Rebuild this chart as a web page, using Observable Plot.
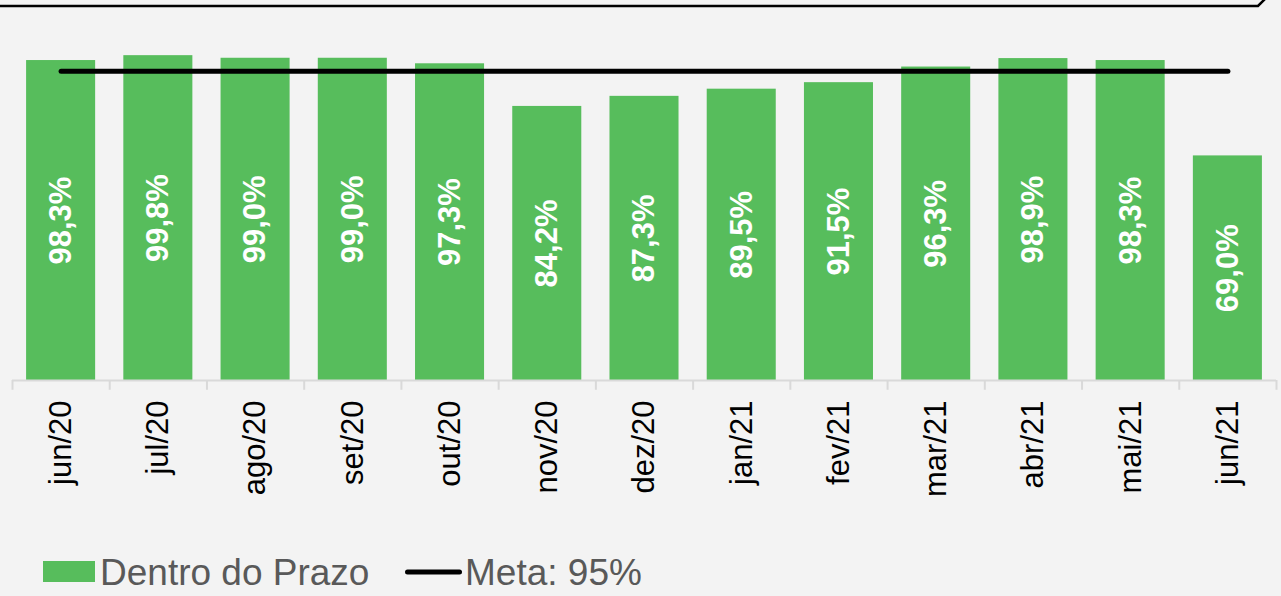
<!DOCTYPE html>
<html>
<head>
<meta charset="utf-8">
<script src="https://cdn.jsdelivr.net/npm/d3@7"></script>
<script src="https://cdn.jsdelivr.net/npm/@observablehq/plot@0.6"></script>
<style>
  html, body { margin: 0; padding: 0; background: #f3f3f3; }
  #wrap { position: relative; width: 1281px; height: 596px; overflow: hidden; font-family: "Liberation Sans", Arial, sans-serif; }
  #deco { position: absolute; left: 0; top: 0; }
  #legend { position: absolute; left: 0; top: 530px; width: 1281px; height: 66px; }
  .lg { position: absolute; color: #595959; font-size: 37px; line-height: 1; white-space: nowrap; }
</style>
</head>
<body>
<div id="wrap">
  <div id="chart"></div>
  <svg id="deco" width="1281" height="20"><path d="M-2,6 H1258 L1265,-1" fill="none" stroke="#000" stroke-width="2.5"/></svg>
  <div id="legend">
    <div style="position:absolute;left:43px;top:31px;width:52px;height:21px;background:#57bd5c"></div>
    <div class="lg" style="left:100px;top:24px">Dentro do Prazo</div>
    <svg style="position:absolute;left:395px;top:32px" width="80" height="20"><line x1="12.5" x2="64.5" y1="10" y2="10" stroke="#000" stroke-width="5" stroke-linecap="round"/></svg>
    <div class="lg" style="left:465px;top:24px">Meta: 95%</div>
  </div>
</div>
<script>
const months = ["jun/20","jul/20","ago/20","set/20","out/20","nov/20","dez/20","jan/21","fev/21","mar/21","abr/21","mai/21","jun/21"];
const values = [98.3, 99.8, 99.0, 99.0, 97.3, 84.2, 87.3, 89.5, 91.5, 96.3, 98.9, 98.3, 69.0];
const meta = 95;

const data = months.map((m, i) => ({month: m, value: values[i], meta}));
const W = 1281, ML = 12, MR = 5;
const step = (W - ML - MR) / months.length;
const fmt = v => v.toFixed(1).replace(".", ",") + "%";
const green = "#57bd5c";

const chart = Plot.plot({
  width: W,
  height: 530,
  marginLeft: ML,
  marginRight: MR,
  marginTop: 54.5,
  marginBottom: 150,
  style: {background: "transparent", fontFamily: "Liberation Sans, Arial, sans-serif"},
  x: {domain: months, paddingInner: 0.29, paddingOuter: 0.145, round: false, label: null},
  y: {domain: [0, 100], axis: null},
  marks: [
    Plot.barY(data, {x: "month", y: "value", fill: green}),
    Plot.ruleY([0], {stroke: "#d9d9d9", strokeWidth: 2}),
    Plot.ruleX(data, {x: "month", y1: 0, y2: -3, dx: -step / 2, stroke: "#d9d9d9", strokeWidth: 2}),
    Plot.ruleX(data.slice(-1), {x: "month", y1: 0, y2: -3, dx: step / 2, stroke: "#d9d9d9", strokeWidth: 2}),
    Plot.lineY(data, {x: "month", y: "meta", stroke: "#000", strokeWidth: 5, strokeLinecap: "round"}),
    Plot.text(data, {x: "month", y: d => d.value / 2, text: d => fmt(d.value), rotate: -90, fill: "#fff", fontWeight: "bold", fontSize: 31}),
    Plot.axisX({tickSize: 0, tickRotate: -90, tickPadding: 20, fontSize: 31, fill: "#000", label: null})
  ]
});
document.getElementById("chart").appendChild(chart);
</script>
</body>
</html>
